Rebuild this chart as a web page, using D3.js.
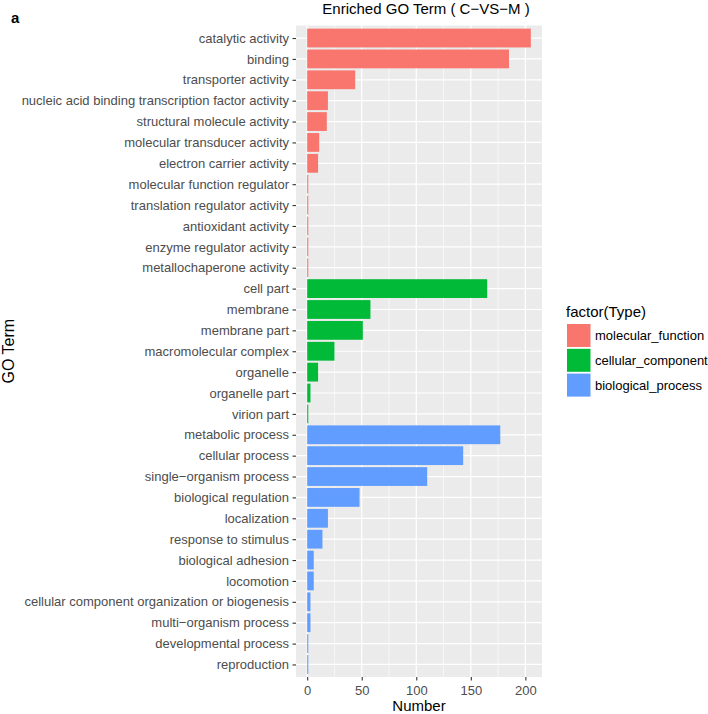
<!DOCTYPE html>
<html>
<head>
<meta charset="utf-8">
<script src="https://cdn.jsdelivr.net/npm/d3@7"></script>
<style>
  html, body { margin: 0; padding: 0; background: #fff; }
  svg { display: block; }
  text { font-family: "Liberation Sans", Arial, Helvetica, sans-serif; }
</style>
</head>
<body>
<svg id="chart" width="708" height="714"></svg>
<script>
// ---- data ----
const mfTerms = ["catalytic activity","binding","transporter activity","nucleic acid binding transcription factor activity","structural molecule activity","molecular transducer activity","electron carrier activity","molecular function regulator","translation regulator activity","antioxidant activity","enzyme regulator activity","metallochaperone activity"];
const mfValues = [205,185,44,19,18,11,10,1,1,1,1,1];
const ccTerms = ["cell part","membrane","membrane part","macromolecular complex","organelle","organelle part","virion part"];
const ccValues = [165,58,51,25,10,3,1];
const bpTerms = ["metabolic process","cellular process","single\u2212organism process","biological regulation","localization","response to stimulus","biological adhesion","locomotion","cellular component organization or biogenesis","multi\u2212organism process","developmental process","reproduction"];
const bpValues = [177,143,110,48,19,14,6,6,3,3,1,1];
const typeNames = ["molecular_function","cellular_component","biological_process"];
const typeColors = ["#F8766D","#00BA38","#619CFF"];
const xTicks = [0,50,100,150,200];
const xMinor = [25,75,125,175];
const titleText = "Enriched GO Term ( C\u2212VS\u2212M )";

const rows = [];
[[mfTerms,mfValues],[ccTerms,ccValues],[bpTerms,bpValues]].forEach(([t,v],i)=>{
  t.forEach((name,j)=>rows.push({term:name, value:v[j], type:typeNames[i]}));
});

const svg = d3.select("#chart");
const panel = {left:296, right:542, top:25.5, bottom:677};

const x = d3.scaleLinear().domain([-10.25, 215.25]).range([panel.left, panel.right]);
const y = d3.scalePoint().domain(rows.map(d=>d.term)).range([panel.top, panel.bottom]).padding(0.6);
const color = d3.scaleOrdinal().domain(typeNames).range(typeColors);
const step = y.step();
const FONT = "'Liberation Sans', Arial, sans-serif";

// panel background
svg.append("rect").attr("x",panel.left).attr("y",panel.top)
  .attr("width",panel.right-panel.left).attr("height",panel.bottom-panel.top)
  .attr("fill","#EBEBEB");

// minor grid
svg.append("g").selectAll("line").data(xMinor).join("line")
  .attr("x1",d=>x(d)).attr("x2",d=>x(d)).attr("y1",panel.top).attr("y2",panel.bottom)
  .attr("stroke","#fff").attr("stroke-width",0.6);
// major grid
svg.append("g").selectAll("line").data(xTicks).join("line")
  .attr("x1",d=>x(d)).attr("x2",d=>x(d)).attr("y1",panel.top).attr("y2",panel.bottom)
  .attr("stroke","#fff").attr("stroke-width",1.2);
svg.append("g").selectAll("line").data(rows).join("line")
  .attr("x1",panel.left).attr("x2",panel.right).attr("y1",d=>y(d.term)).attr("y2",d=>y(d.term))
  .attr("stroke","#fff").attr("stroke-width",1.2);

// bars
svg.append("g").selectAll("rect").data(rows).join("rect")
  .attr("x",x(0)).attr("y",d=>y(d.term)-0.45*step)
  .attr("width",d=>x(d.value)-x(0)).attr("height",0.9*step)
  .attr("fill",d=>color(d.type));

// y axis
const yAxis = d3.axisLeft(y).tickSize(3.5).tickPadding(3.5);
const gy = svg.append("g").attr("transform",`translate(${panel.left},0)`).call(yAxis);
gy.select(".domain").remove();
gy.selectAll(".tick line").attr("stroke","#333").attr("stroke-width",1.1);
gy.selectAll(".tick text").attr("fill","#4D4D4D").style("font-size","13px").style("font-family",FONT);

// x axis
const xAxis = d3.axisBottom(x).tickValues(xTicks).tickSize(3.5).tickPadding(5);
const gx = svg.append("g").attr("transform",`translate(0,${panel.bottom})`).call(xAxis);
gx.select(".domain").remove();
gx.selectAll(".tick line").attr("stroke","#333").attr("stroke-width",1.1);
gx.selectAll(".tick text").attr("fill","#4D4D4D").style("font-size","13px").style("font-family",FONT);

// axis titles
svg.append("text").attr("x",(panel.left+panel.right)/2).attr("y",711)
  .attr("text-anchor","middle").style("font-size","15px").attr("fill","#000").text("Number");
svg.append("text").attr("transform",`translate(13.5,${(panel.top+panel.bottom)/2}) rotate(-90)`)
  .attr("text-anchor","middle").style("font-size","16px").attr("fill","#000").text("GO Term");

// title
svg.append("text").attr("x",426).attr("y",14).attr("text-anchor","middle")
  .style("font-size","15px").attr("fill","#000").text(titleText);

// panel label
svg.append("text").attr("x",11).attr("y",22.5).style("font-size","15px").style("font-weight","bold")
  .attr("fill","#000").text("a");

// legend
const lg = svg.append("g");
lg.append("text").attr("x",566).attr("y",317).style("font-size","15px").attr("fill","#000").text("factor(Type)");
const items = lg.selectAll("g.item").data(typeNames).join("g").attr("class","item")
  .attr("transform",(d,i)=>`translate(567,${324+i*24.8})`);
items.append("rect").attr("width",23.5).attr("height",23).attr("fill",d=>color(d));
items.append("text").attr("x",28).attr("y",16).style("font-size","13px").attr("fill","#000").text(d=>d);
</script>
</body>
</html>
